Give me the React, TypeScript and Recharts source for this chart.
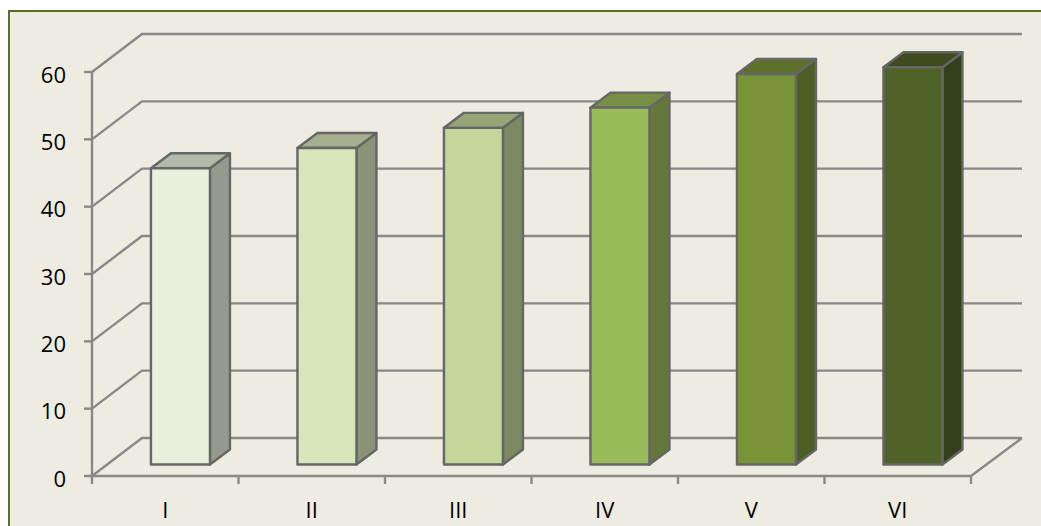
import { BarChart, Bar, XAxis, YAxis, CartesianGrid } from 'recharts';

const CATEGORIES = ['I', 'II', 'III', 'IV', 'V', 'VI'];
const VALUES = [44, 47, 50, 53, 58, 59];
const Y_TICKS = [0, 10, 20, 30, 40, 50, 60];
const BAR_COLORS = ['#e9f0de', '#d8e5bb', '#c4d699', '#9abb59', '#799339', '#4f6228'];

const FONT = '"Open Sans", sans-serif';
const AXIS_COLOR = '#888888';
const EDGE_COLOR = '#666666';

// fake 3d offsets
const BACK_DX = 50;
const BACK_DY = 38;
const BAR_DX = 15;
const BAR_DY = 11.5;
const DEPTH_DX = 20;
const DEPTH_DY = 15;

const data = CATEGORIES.map((name, i) => ({ name, value: VALUES[i] }));

function shade(hex: string, k: number) {
  const n = parseInt(hex.slice(1), 16);
  const part = (v: number) => Math.round(v * k);
  return `rgb(${part((n >> 16) & 255)},${part((n >> 8) & 255)},${part(n & 255)})`;
}

function GridLine(props: any) {
  const { x1, x2, y1, index } = props;
  const bx1 = x1 + BACK_DX;
  const bx2 = x2 + BACK_DX + 1;
  const by = y1 - BACK_DY;
  return (
    <g key={index} fill="none" stroke={AXIS_COLOR} strokeWidth={2.4}>
      <polyline points={`${x1},${y1} ${bx1},${by} ${bx2},${by}`} />
      {y1 > 400 && <line x1={x2} y1={y1} x2={bx2} y2={by} />}
    </g>
  );
}

function Bar3D(props: any) {
  const { x, y, width, height, index } = props;
  const fill = BAR_COLORS[index];
  const l = x + BAR_DX;
  const r = l + width;
  const t = y - BAR_DY;
  const b = t + height;
  return (
    <g stroke={EDGE_COLOR} strokeWidth={2.4} strokeLinejoin="round">
      <polygon
        points={`${r},${t} ${r + DEPTH_DX},${t - DEPTH_DY} ${r + DEPTH_DX},${b - DEPTH_DY} ${r},${b}`}
        fill={shade(fill, 0.64)}
      />
      <polygon
        points={`${l},${t} ${l + DEPTH_DX},${t - DEPTH_DY} ${r + DEPTH_DX},${t - DEPTH_DY} ${r},${t}`}
        fill={shade(fill, 0.77)}
      />
      <rect x={l} y={t} width={width} height={height} fill={fill} />
    </g>
  );
}

function CategoryTick(props: any) {
  const { x, y, payload, index } = props;
  const half = payload.offset ?? 73.25;
  const last = index === CATEGORIES.length - 1;
  return (
    <g>
      <line x1={x - half} y1={y - 8} x2={x - half} y2={y} stroke={AXIS_COLOR} strokeWidth={2.4} />
      {last && <line x1={x + half} y1={y - 8} x2={x + half} y2={y} stroke={AXIS_COLOR} strokeWidth={2.4} />}
      <text x={x} y={y + 34} textAnchor="middle" fontFamily={FONT} fontSize={22} fill="#000">
        {payload.value}
      </text>
    </g>
  );
}

export default function App() {
  return (
    <div
      style={{
        position: 'absolute',
        left: 8,
        top: 10,
        width: 1033,
        height: 516,
        boxSizing: 'border-box',
        background: '#eeebe0',
        borderTop: '2px solid #5a6e2c',
        borderLeft: '2px solid #5a6e2c',
      }}
    >
      <BarChart
        width={1031}
        height={514}
        data={data}
        barCategoryGap="30%"
        margin={{ top: 60, right: 70, bottom: 0, left: 30 }}
      >
        <CartesianGrid vertical={false} horizontal={(p: any) => <GridLine {...p} />} />
        <XAxis
          dataKey="name"
          height={50}
          axisLine={{ stroke: AXIS_COLOR, strokeWidth: 2.4 }}
          tickLine={false}
          tick={(p: any) => <CategoryTick {...p} />}
          interval={0}
        />
        <YAxis
          width={52}
          domain={[0, 60]}
          ticks={Y_TICKS}
          interval={0}
          axisLine={{ stroke: AXIS_COLOR, strokeWidth: 2.4 }}
          tickLine={{ stroke: AXIS_COLOR, strokeWidth: 2.4 }}
          tickSize={8}
          tickMargin={18}
          tick={{ fill: '#000', fontSize: 22, fontFamily: FONT, dy: 3 }}
        />
        <Bar dataKey="value" shape={(p: any) => <Bar3D {...p} />} isAnimationActive={false} />
      </BarChart>
    </div>
  );
}
